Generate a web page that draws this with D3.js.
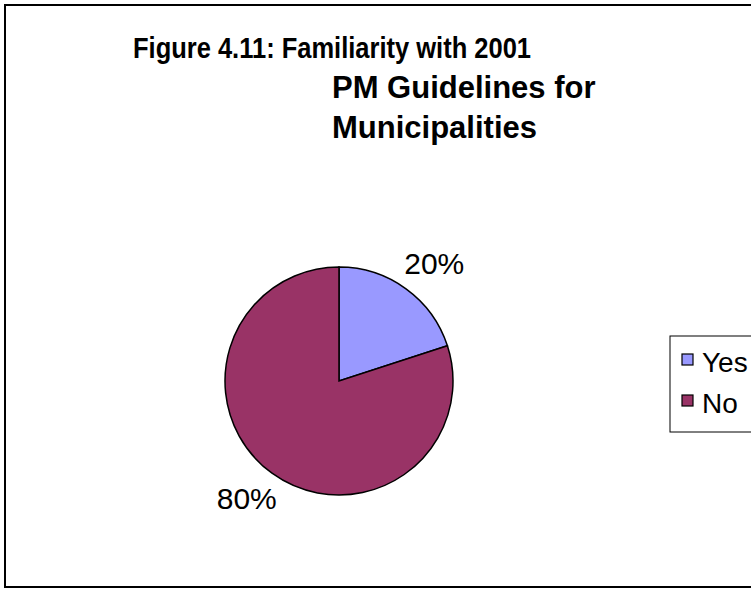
<!DOCTYPE html>
<html>
<head>
<meta charset="utf-8">
<script src="https://cdn.jsdelivr.net/npm/d3@7"></script>
<style>
	body { margin: 0; background: #fff; }
	svg { display: block; font-family: Arial, "Liberation Sans", sans-serif; }
</style>
</head>
<body>
<div class="chart"></div>
<script>
const categories = ['Yes', 'No'];
const values = [20, 80];
const colors = ['#9999FF', '#993366'];
const titleLines = ['Figure 4.11: Familiarity with 2001', 'PM Guidelines for', 'Municipalities'];

const width = 751;
const height = 589;

const svg = d3.select('.chart')
	.append('svg')
	.attr('width', width)
	.attr('height', height);

// chart frame, runs off the right side like the original
svg.append('rect')
	.attr('x', 5)
	.attr('y', 5)
	.attr('width', 780)
	.attr('height', 582)
	.style('fill', 'white')
	.style('stroke', '#000')
	.style('stroke-width', 2);

// title
svg.append('text')
	.attr('x', 133)
	.attr('y', 58)
	.attr('textLength', 398)
	.attr('lengthAdjust', 'spacingAndGlyphs')
	.style('font-weight', 'bold')
	.style('font-size', '29px')
	.text(titleLines[0]);
svg.selectAll('.tline')
	.data(titleLines.slice(1))
	.enter()
	.append('text')
	.attr('class', 'tline')
	.attr('x', 332)
	.attr('y', (d, i) => 98 + i * 40)
	.style('font-weight', 'bold')
	.style('font-size', '31px')
	.text(d => d);

// pie
const cx = 339, cy = 381, r = 114;
const color = d3.scaleOrdinal().domain(categories).range(colors);
const pie = d3.pie().sort(null).value(d => d.value);
const arc = d3.arc().innerRadius(0).outerRadius(r);
const data = categories.map((c, i) => ({ name: c, value: values[i] }));
const arcs = pie(data);

const g = svg.append('g').attr('transform', `translate(${cx},${cy})`);
g.selectAll('path')
	.data(arcs)
	.enter()
	.append('path')
	.attr('d', arc)
	.style('fill', d => color(d.data.name))
	.style('stroke', '#000')
	.style('stroke-width', 1.5);

const labelArc = d3.arc().innerRadius(r + 31).outerRadius(r + 31);
g.selectAll('.lbl')
	.data(arcs)
	.enter()
	.append('text')
	.attr('class', 'lbl')
	.attr('x', d => {
		let c = labelArc.centroid(d);
		return c[0] + (c[0] > 0 ? 10 : -7);
	})
	.attr('y', d => labelArc.centroid(d)[1])
	.attr('dy', '0.35em')
	.style('text-anchor', 'middle')
	.style('font-size', '30px')
	.text(d => d.data.value + '%');

// legend
const legend = svg.append('g').attr('transform', 'translate(670,336)');
legend.append('rect')
	.attr('width', 120)
	.attr('height', 96)
	.style('fill', 'white')
	.style('stroke', '#000')
	.style('stroke-width', 1);
const items = legend.selectAll('.item')
	.data(categories)
	.enter()
	.append('g')
	.attr('class', 'item')
	.attr('transform', (d, i) => `translate(12,${36 + i * 41})`);
items.append('rect')
	.attr('y', -18)
	.attr('width', 11)
	.attr('height', 11)
	.style('fill', d => color(d))
	.style('stroke', '#000')
	.style('stroke-width', 1.2);
items.append('text')
	.attr('x', 20)
	.attr('y', 0)
	.style('font-size', '28px')
	.text(d => d);
</script>
</body>
</html>
